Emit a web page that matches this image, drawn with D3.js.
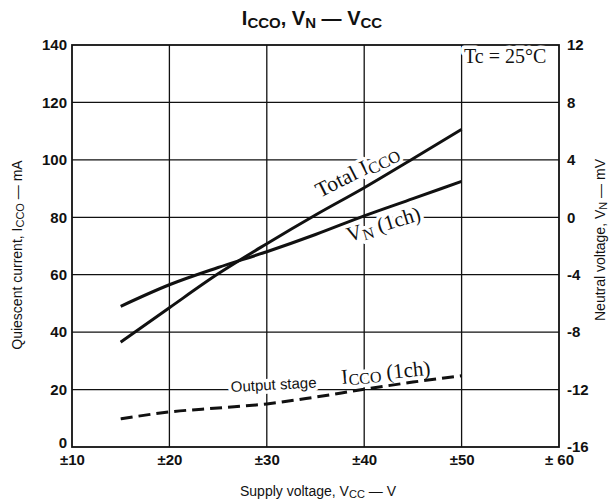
<!DOCTYPE html>
<html><head><meta charset="utf-8">
<script src="https://cdn.jsdelivr.net/npm/d3@7"></script>
<style>
html,body{margin:0;padding:0;background:#fff;}
svg{display:block;}
</style></head>
<body>
<svg id="chart" width="612" height="504"></svg>
<script>
// ---- data ----
const vcc = [15, 20, 25, 30, 35, 40, 45, 50];
const totalIcco = [36.5, 48.5, 60.3, 70.8, 80.8, 90.3, 100.4, 110.6];  // mA (left axis)
const vnMv = [-6.2, -4.7, -3.5, -2.4, -1.2, 0.1, 1.3, 2.5];            // mV (right axis)
const outputIcco = [9.8, 12.2, 13.6, 15.0, 17.4, 20.1, 22.6, 24.8];    // mA (left axis)
const xTicks = [10, 20, 30, 40, 50, 60];
const yTicks = [0, 20, 40, 60, 80, 100, 120, 140];
const y2Ticks = [-16, -12, -8, -4, 0, 4, 8, 12];

const svg = d3.select("#chart");
const L = 72, R = 559, T = 45, B = 447;
const x = d3.scaleLinear().domain([10, 60]).range([L, R]);
const y = d3.scaleLinear().domain([0, 140]).range([B, T]);
const y2 = d3.scaleLinear().domain([-16, 12]).range([B, T]);
const ink = "#111";
const sans = "'Liberation Sans', Arial, sans-serif";
const serif = "'Liberation Serif', 'Times New Roman', serif";

// grid
const g = svg.append("g");
g.selectAll(".hg").data(yTicks.slice(1, -1)).join("line")
  .attr("x1", L).attr("x2", R).attr("y1", d => y(d)).attr("y2", d => y(d))
  .attr("stroke", ink).attr("stroke-width", 1.3);
g.selectAll(".vg").data(xTicks.slice(1, -1)).join("line")
  .attr("y1", T).attr("y2", B).attr("x1", d => x(d)).attr("x2", d => x(d))
  .attr("stroke", ink).attr("stroke-width", 1.3);
g.append("rect").attr("x", L).attr("y", T).attr("width", R - L).attr("height", B - T)
  .attr("fill", "none").attr("stroke", ink).attr("stroke-width", 1.8);

// axes tick labels
const yAxis = d3.axisLeft(y).tickValues(yTicks).tickSize(0).tickPadding(5);
svg.append("g").attr("transform", `translate(${L},0)`).call(yAxis)
  .call(s => s.select(".domain").remove())
  .selectAll("text").attr("font-family", sans).attr("font-size", 15).attr("font-weight", "bold")
  .attr("fill", ink).attr("dy", d => d === 0 ? "0.05em" : "0.32em");

const xAxis = d3.axisBottom(x).tickValues(xTicks).tickSize(0).tickPadding(7)
  .tickFormat(d => d === 60 ? "\u00b1 60" : "\u00b1" + d);
svg.append("g").attr("transform", `translate(0,${B})`).call(xAxis)
  .call(s => s.select(".domain").remove())
  .selectAll("text").attr("font-family", sans).attr("font-size", 15).attr("font-weight", "bold")
  .attr("fill", ink);

const y2Axis = d3.axisRight(y2).tickValues(y2Ticks).tickSize(0).tickPadding(8)
  .tickFormat(d => String(d));
svg.append("g").attr("transform", `translate(${R},0)`).call(y2Axis)
  .call(s => s.select(".domain").remove())
  .selectAll("text").attr("font-family", sans).attr("font-size", 15).attr("font-weight", "bold")
  .attr("fill", ink).attr("dy", "0.32em");

// helper for text with subscripts: parts = [[text, sub?], ...]
function richText(sel, parts, subSize, shift) {
  parts.forEach(p => {
    const t = sel.append("tspan").text(p[0]);
    if (p[1]) t.attr("font-size", subSize).attr("baseline-shift", shift || "-22%");
  });
  return sel;
}

// title
richText(svg.append("text").attr("x", 312).attr("y", 25).attr("text-anchor", "middle")
  .attr("font-family", sans).attr("font-weight", "bold").attr("font-size", 20).attr("fill", ink),
  [["I"], ["CCO", 1], [", V"], ["N", 1], [" \u2014 V"], ["CC", 1]], 15);

// axis titles
richText(svg.append("text").attr("transform", "translate(22,255) rotate(-90)").attr("text-anchor", "middle")
  .attr("font-family", sans).attr("font-size", 14).attr("fill", ink),
  [["Quiescent current, I"], ["CCO", 1], [" \u2014 mA"]], 11);
richText(svg.append("text").attr("transform", "translate(605,240) rotate(-90)").attr("text-anchor", "middle")
  .attr("font-family", sans).attr("font-size", 14).attr("fill", ink),
  [["Neutral voltage, V"], ["N", 1], [" \u2014 mV"]], 11);
richText(svg.append("text").attr("x", 318).attr("y", 496).attr("text-anchor", "middle")
  .attr("font-family", sans).attr("font-size", 14).attr("fill", ink),
  [["Supply voltage, V"], ["CC", 1], [" \u2014 V"]], 11);

// in-plot labels (white halo to break grid lines), drawn before curves
const halo = s => s.attr("stroke", "#fff").attr("stroke-width", 7).attr("paint-order", "stroke")
  .attr("stroke-linejoin", "round");
halo(svg.append("text").attr("x", 464).attr("y", 63).attr("font-family", serif).attr("font-size", 20)
  .attr("fill", ink).text("Tc = 25\u00b0C"));
halo(richText(svg.append("text").attr("transform", "translate(320,198) rotate(-27)")
  .attr("font-family", serif).attr("font-size", 21.5).attr("fill", ink),
  [["Total I"], ["CCO", 1]], 16.5, "-15%"));
halo(richText(svg.append("text").attr("transform", "translate(349,242) rotate(-17)")
  .attr("font-family", serif).attr("font-size", 21).attr("fill", ink),
  [["V"], ["N", 1], [" (1ch)"]], 16, "-20%"));
halo(richText(svg.append("text").attr("transform", "translate(342,384) rotate(-6)")
  .attr("font-family", serif).attr("font-size", 21).attr("fill", ink),
  [["I"], ["CCO", 1], [" (1ch)"]], 16, "-15%"));
halo(svg.append("text").attr("transform", "translate(231,392) rotate(-3)")
  .attr("font-family", sans).attr("font-size", 15).attr("fill", ink).text("Output stage"));

// curves
const lineL = d3.line().x(d => x(d[0])).y(d => y(d[1])).curve(d3.curveMonotoneX);
const lineR = d3.line().x(d => x(d[0])).y(d => y2(d[1])).curve(d3.curveMonotoneX);
svg.append("path").datum(vcc.map((v, i) => [v, totalIcco[i]])).attr("d", lineL)
  .attr("fill", "none").attr("stroke", ink).attr("stroke-width", 3);
svg.append("path").datum(vcc.map((v, i) => [v, vnMv[i]])).attr("d", lineR)
  .attr("fill", "none").attr("stroke", ink).attr("stroke-width", 3);
svg.append("path").datum(vcc.map((v, i) => [v, outputIcco[i]])).attr("d", lineL)
  .attr("fill", "none").attr("stroke", ink).attr("stroke-width", 3)
  .attr("stroke-dasharray", "12,6");
</script>
</body></html>
